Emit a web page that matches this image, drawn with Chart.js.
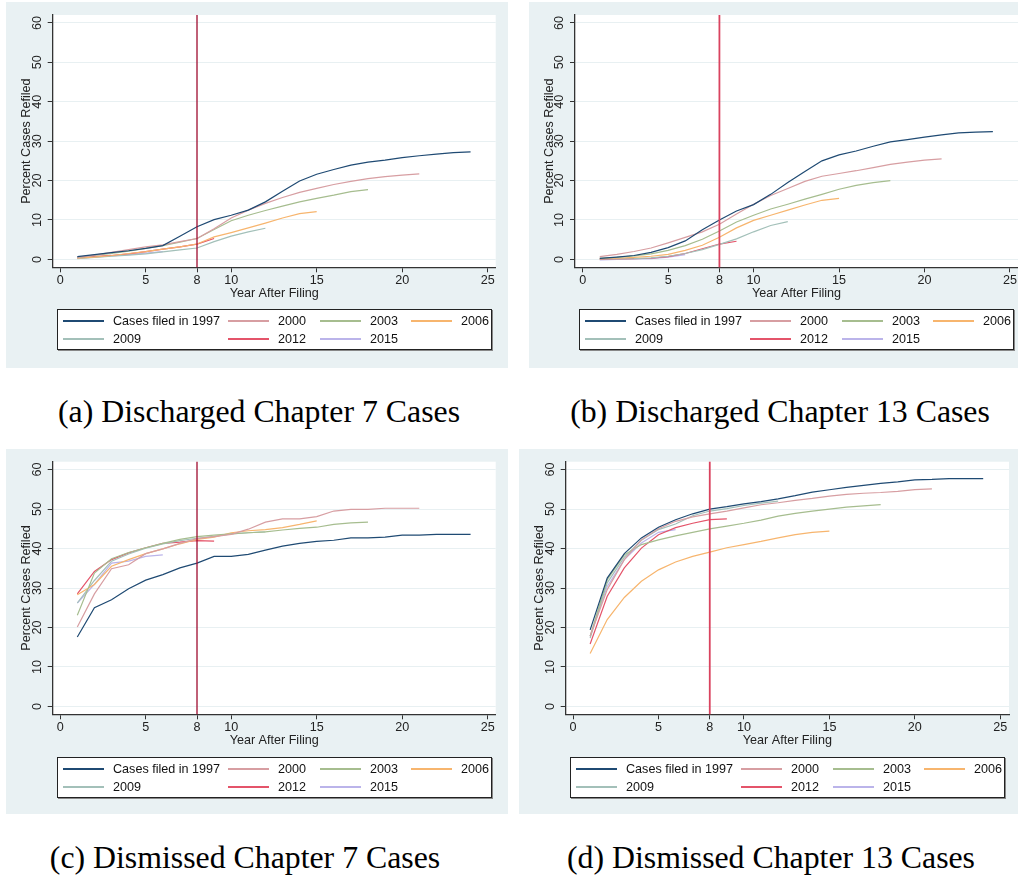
<!DOCTYPE html>
<html>
<head>
<meta charset="utf-8">
<script src="https://cdn.jsdelivr.net/npm/chart.js@4.4.1/dist/chart.umd.min.js"></script>
<style>
body { margin: 0; width: 1018px; height: 878px; background: #fff; position: relative; overflow: hidden; font-family: "Liberation Sans", Arial, sans-serif; }
.panel { position: absolute; background: #e9f1f3; overflow: hidden; }
.panel canvas { position: absolute; left: 0; top: 0; }
.legend { position: absolute; width: 433px; height: 39px; border: 1px solid #222; box-shadow: 1px 1px 0 #888; background: #fff; font-size: 12.6px; color: #111; }
.item { position: absolute; width: 160px; height: 16px; }
.item .key { position: absolute; left: 0; top: 7px; width: 41px; height: 2px; }
.item .lab { position: absolute; left: 50px; top: 0; line-height: 16px; white-space: nowrap; }
.caption { position: absolute; font-family: "Liberation Serif", "Times New Roman", serif; font-size: 31.8px; line-height: 36px; color: #000; white-space: nowrap; transform: translateX(-50%); }
</style>
</head>
<body>
<script>
// ---- data ----
const cohortLabels = ['Cases filed in 1997', '2000', '2003', '2006', '2009', '2012', '2015'];
const cohortColors = ['#1f4a73', '#d79ea2', '#a6bd8f', '#f7b56e', '#a3c0b9', '#e4546a', '#bbb4ea'];
const years = [1, 2, 3, 4, 5, 6, 7, 8, 9, 10, 11, 12, 13, 14, 15, 16, 17, 18, 19, 20, 21, 22, 23, 24];
const xTicks = [0, 5, 8, 10, 15, 20, 25];
const yTicks = [0, 10, 20, 30, 40, 50, 60];
const cutoffYear = 8;

// (a) Discharged Chapter 7
const a1997 = [0.7, 1.2, 1.7, 2.2, 2.8, 3.5, 5.9, 8.3, 10.1, 11.2, 12.5, 14.6, 17.3, 19.9, 21.6, 22.8, 23.9, 24.7, 25.2, 25.8, 26.3, 26.7, 27.1, 27.3];
const a2000 = [0.5, 1.1, 1.8, 2.5, 3.2, 3.7, 4.5, 5.3, 7.8, 10.5, 12.5, 14.2, 15.7, 17.0, 18.0, 19.0, 19.8, 20.5, 21.0, 21.4, 21.7];
const a2003 = [0.5, 1.0, 1.5, 2.1, 2.8, 3.5, 4.4, 5.3, 7.6, 9.8, 11.2, 12.4, 13.5, 14.6, 15.5, 16.3, 17.2, 17.7];
const a2006 = [0.3, 0.6, 1.0, 1.5, 2.0, 2.6, 3.2, 3.9, 5.7, 6.8, 8.0, 9.2, 10.5, 11.6, 12.1];
const a2009 = [0.2, 0.5, 0.8, 1.1, 1.4, 1.9, 2.4, 2.9, 4.5, 5.9, 7.0, 7.9];
const a2012 = [0.4, 0.7, 1.0, 1.4, 2.0, 2.6, 3.2, 3.9, 5.3];
const a2015 = [0.3, 0.6, 0.9, 1.2, 1.6, 2.0];

// (b) Discharged Chapter 13
const b1997 = [0.25, 0.6, 1.0, 1.8, 3.0, 4.7, 7.5, 10.0, 12.3, 13.9, 16.5, 19.5, 22.3, 25.0, 26.5, 27.5, 28.7, 29.8, 30.4, 31.0, 31.6, 32.1, 32.3, 32.4];
const b2000 = [0.7, 1.3, 2.0, 2.9, 4.2, 5.6, 7.0, 8.9, 11.5, 14.0, 16.2, 18.0, 19.8, 21.1, 21.8, 22.5, 23.3, 24.1, 24.7, 25.2, 25.5];
const b2003 = [0.3, 0.5, 0.9, 1.4, 2.3, 3.5, 5.1, 7.2, 9.5, 11.2, 12.8, 14.0, 15.3, 16.5, 17.8, 18.8, 19.5, 20.0];
const b2006 = [0.2, 0.3, 0.5, 0.8, 1.3, 2.3, 3.6, 5.6, 8.0, 9.9, 11.2, 12.5, 13.8, 15.0, 15.5];
const b2009 = [0.1, 0.1, 0.2, 0.4, 0.8, 1.5, 2.5, 3.8, 5.2, 7.0, 8.6, 9.6];
const b2012 = [0.0, 0.1, 0.2, 0.3, 0.7, 1.5, 2.7, 3.9, 4.6];
const b2015 = [-0.1, 0.0, 0.1, 0.2, 0.6, 1.2];

// (c) Dismissed Chapter 7
const c1997 = [17.6, 25.0, 27.0, 29.8, 32.0, 33.4, 35.1, 36.3, 38.0, 38.0, 38.5, 39.6, 40.6, 41.3, 41.8, 42.1, 42.7, 42.7, 42.9, 43.4, 43.4, 43.6, 43.6, 43.6];
const c2000 = [20.1, 28.5, 34.9, 35.9, 38.7, 39.9, 41.3, 42.5, 43.0, 43.6, 44.9, 46.7, 47.5, 47.5, 48.1, 49.5, 49.9, 49.9, 50.2, 50.2, 50.2];
const c2003 = [23.1, 33.8, 37.4, 39.0, 40.2, 41.3, 42.3, 43.0, 43.4, 43.7, 44.0, 44.2, 44.7, 45.1, 45.4, 46.1, 46.5, 46.7];
const c2006 = [28.3, 30.9, 35.5, 37.2, 38.7, 39.9, 41.2, 42.3, 42.9, 44.0, 44.5, 44.8, 45.3, 46.1, 47.0];
const c2009 = [26.2, 31.9, 36.8, 38.6, 40.1, 41.2, 42.0, 42.6, 43.1, 43.7, 44.0, 44.2];
const c2012 = [28.5, 34.2, 37.2, 38.9, 40.2, 41.3, 41.6, 42.0, 41.9];
const c2015 = [26.2, 30.9, 36.3, 36.8, 38.0, 38.4];

// (d) Dismissed Chapter 13
const d1997 = [19.4, 32.5, 38.7, 42.7, 45.4, 47.3, 48.8, 50.0, 50.6, 51.3, 51.9, 52.6, 53.4, 54.3, 54.9, 55.5, 56.0, 56.5, 56.9, 57.4, 57.5, 57.7, 57.7, 57.7];
const d2000 = [17.8, 29.6, 37.2, 42.2, 45.0, 46.9, 48.0, 48.8, 49.5, 50.3, 51.1, 51.6, 52.2, 52.7, 53.3, 53.7, 54.0, 54.2, 54.5, 54.9, 55.1];
const d2003 = [17.8, 32.1, 38.4, 41.0, 42.2, 43.2, 44.1, 45.0, 45.7, 46.4, 47.2, 48.2, 48.9, 49.5, 50.0, 50.5, 50.8, 51.1];
const d2006 = [13.4, 22.0, 27.6, 31.7, 34.6, 36.6, 38.0, 39.1, 40.2, 41.0, 41.8, 42.7, 43.5, 44.1, 44.4];
const d2009 = [17.3, 31.3, 37.8, 42.1, 44.8, 46.2, 48.3, 49.5, 50.1, 50.9, 51.5, 52.0];
const d2012 = [15.8, 27.9, 35.1, 40.1, 43.5, 45.3, 46.4, 47.3, 47.5];
const d2015 = [17.7, 30.4, 37.2, 41.4, 44.1, 44.8];

// ---- layout of the four panels ----
const panels = [
    { box: [6, 2, 502, 366], area: [46.7, 13, 489.7, 265.3], xMin: -0.44, xMax: 25.47,
      cut: '#9e0b2f', cutW: 1.3, legend: [51, 307],
      series: [a1997, a2000, a2003, a2006, a2009, a2012, a2015],
      caption: '(a) Discharged Chapter 7 Cases', capX: 259, capY: 412 },
    { box: [529, 2, 489, 366], area: [46, 13, 489, 265.3], xMin: -0.45, xMax: 25.47,
      cut: '#d9435f', cutW: 1.8, legend: [50, 307],
      series: [b1997, b2000, b2003, b2006, b2009, b2012, b2015],
      caption: '(b) Discharged Chapter 13 Cases', capX: 780, capY: 412 },
    { box: [6, 449, 502, 365], area: [46.7, 12.7, 489.7, 265.3], xMin: -0.44, xMax: 25.47,
      cut: '#9e0b2f', cutW: 1.3, legend: [51, 308],
      series: [c1997, c2000, c2003, c2006, c2009, c2012, c2015],
      caption: '(c) Dismissed Chapter 7 Cases', capX: 245, capY: 858 },
    { box: [519, 449, 499, 365], area: [46.7, 12.7, 490, 265.3], xMin: -0.43, xMax: 25.51,
      cut: '#d9435f', cutW: 1.8, legend: [51, 308],
      series: [d1997, d2000, d2003, d2006, d2009, d2012, d2015],
      caption: '(d) Dismissed Chapter 13 Cases', capX: 771, capY: 858 }
];

Chart.defaults.font.family = '"Liberation Sans", Arial, sans-serif';
Chart.defaults.font.size = 12.6;
Chart.defaults.color = '#222';

// white plot region
const plotBg = {
    id: 'plotBg',
    beforeDraw(chart) {
        const { ctx, chartArea: a } = chart;
        ctx.save();
        ctx.fillStyle = '#fff';
        ctx.fillRect(a.left, a.top, a.right - a.left, a.bottom - a.top);
        ctx.restore();
    }
};

// vertical reference line at the cutoff year
const cutLine = {
    id: 'cutLine',
    afterDatasetsDraw(chart, args, opts) {
        const { ctx, chartArea: a, scales: { x } } = chart;
        const px = x.getPixelForValue(cutoffYear);
        ctx.save();
        ctx.strokeStyle = opts.color;
        ctx.lineWidth = opts.width;
        ctx.beginPath();
        ctx.moveTo(px, a.top);
        ctx.lineTo(px, a.bottom);
        ctx.stroke();
        ctx.restore();
    }
};

const X_AXIS_H = 34;
const legendCols = [[5, 3], [170, 3], [262, 3], [353, 3], [5, 21], [170, 21], [262, 21]];

panels.forEach(p => {
    const [bx, by, bw, bh] = p.box;
    const [al, at, ar, ab] = p.area;

    const div = document.createElement('div');
    div.className = 'panel';
    Object.assign(div.style, { left: bx + 'px', top: by + 'px', width: bw + 'px', height: bh + 'px' });
    const canvas = document.createElement('canvas');
    canvas.width = bw;
    canvas.height = bh;
    div.appendChild(canvas);

    // legend box, built from the same labels/colours
    const lg = document.createElement('div');
    lg.className = 'legend';
    Object.assign(lg.style, { left: p.legend[0] + 'px', top: p.legend[1] + 'px' });
    cohortLabels.forEach((lab, i) => {
        const it = document.createElement('div');
        it.className = 'item';
        it.style.left = legendCols[i][0] + 'px';
        it.style.top = legendCols[i][1] + 'px';
        const key = document.createElement('div');
        key.className = 'key';
        key.style.backgroundColor = cohortColors[i];
        const txt = document.createElement('div');
        txt.className = 'lab';
        txt.textContent = lab;
        it.appendChild(key);
        it.appendChild(txt);
        lg.appendChild(it);
    });
    div.appendChild(lg);
    document.body.appendChild(div);

    const cap = document.createElement('div');
    cap.className = 'caption';
    cap.textContent = p.caption;
    Object.assign(cap.style, { left: p.capX + 'px', top: (p.capY - 18) + 'px' });
    document.body.appendChild(cap);

    new Chart(canvas.getContext('2d'), {
        type: 'line',
        data: {
            datasets: p.series.map((vals, i) => ({
                label: cohortLabels[i],
                data: vals.map((v, j) => ({ x: years[j], y: v })),
                borderColor: cohortColors[i],
                borderWidth: 1.2,
                pointRadius: 0,
                tension: 0,
                fill: false
            }))
        },
        options: {
            responsive: false,
            animation: false,
            devicePixelRatio: 1,
            layout: { padding: { left: 0, top: at, right: bw - ar, bottom: bh - ab - X_AXIS_H } },
            plugins: {
                legend: { display: false },
                tooltip: { enabled: false },
                cutLine: { color: p.cut, width: p.cutW }
            },
            scales: {
                x: {
                    type: 'linear',
                    min: p.xMin,
                    max: p.xMax,
                    afterBuildTicks: s => { s.ticks = xTicks.map(v => ({ value: v })); },
                    afterFit: s => { s.height = X_AXIS_H; },
                    ticks: { autoSkip: false, maxRotation: 0, padding: 1, color: '#222' },
                    grid: { drawOnChartArea: false, tickLength: 5, tickColor: '#333' },
                    border: { color: '#333', width: 1.3 },
                    title: { display: true, text: 'Year After Filing', padding: 0, color: '#222' }
                },
                y: {
                    min: -2,
                    max: 62,
                    afterBuildTicks: s => { s.ticks = yTicks.map(v => ({ value: v })); },
                    afterFit: s => { s.width = al; },
                    ticks: { autoSkip: false, minRotation: 90, maxRotation: 90, crossAlign: 'center', padding: 3, color: '#222' },
                    grid: { color: '#e8f0f2', tickLength: 5, tickColor: '#333' },
                    border: { color: '#333', width: 1.3 },
                    title: { display: true, text: 'Percent Cases Refiled', padding: { top: 13, bottom: 0 }, color: '#222' }
                }
            }
        },
        plugins: [plotBg, cutLine]
    });
});
</script>
</body>
</html>
